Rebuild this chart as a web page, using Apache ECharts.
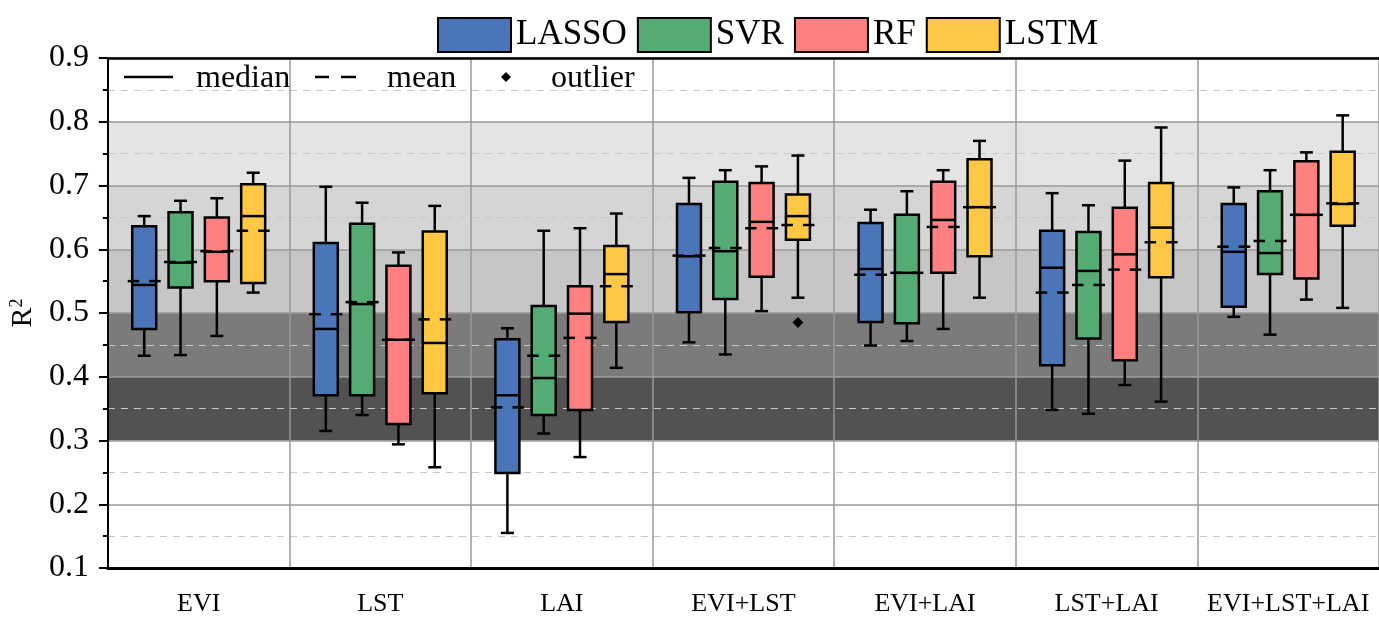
<!DOCTYPE html>
<html>
<head>
<meta charset="utf-8">
<script src="https://cdn.jsdelivr.net/npm/echarts@6/dist/echarts.min.js"></script>
<style>html,body{margin:0;padding:0;background:#fff}#c{width:1379px;height:617px}</style>
</head>
<body>
<div id="c"></div>
<script>
const categories = ['EVI', 'LST', 'LAI', 'EVI+LST', 'EVI+LAI', 'LST+LAI', 'EVI+LST+LAI'];
const models = ['LASSO', 'SVR', 'RF', 'LSTM'];
const yTicks = [0.1, 0.2, 0.3, 0.4, 0.5, 0.6, 0.7, 0.8, 0.9];
// each row: [min, Q1, median, Q3, max, mean]
const lasso = [
  [0.433, 0.475, 0.544, 0.636, 0.652, 0.550],
  [0.315, 0.371, 0.475, 0.610, 0.698, 0.498],
  [0.155, 0.249, 0.371, 0.459, 0.476, 0.352],
  [0.454, 0.501, 0.589, 0.671, 0.712, 0.590],
  [0.449, 0.486, 0.569, 0.641, 0.662, 0.560],
  [0.348, 0.418, 0.571, 0.629, 0.688, 0.532],
  [0.494, 0.510, 0.596, 0.671, 0.697, 0.604]
];
const svr = [
  [0.434, 0.540, 0.579, 0.658, 0.676, 0.580],
  [0.340, 0.371, 0.514, 0.640, 0.673, 0.517],
  [0.311, 0.340, 0.398, 0.511, 0.629, 0.433],
  [0.435, 0.522, 0.597, 0.706, 0.724, 0.602],
  [0.456, 0.484, 0.563, 0.654, 0.691, 0.563],
  [0.342, 0.460, 0.566, 0.627, 0.669, 0.544],
  [0.466, 0.561, 0.594, 0.691, 0.724, 0.613]
];
const rf = [
  [0.464, 0.550, 0.596, 0.650, 0.680, 0.597],
  [0.294, 0.326, 0.458, 0.574, 0.595, 0.458],
  [0.274, 0.348, 0.499, 0.542, 0.633, 0.461],
  [0.503, 0.557, 0.643, 0.704, 0.730, 0.633],
  [0.475, 0.563, 0.646, 0.706, 0.724, 0.635],
  [0.387, 0.426, 0.592, 0.665, 0.739, 0.568],
  [0.521, 0.554, 0.654, 0.738, 0.752, 0.654]
];
const lstm = [
  [0.532, 0.547, 0.652, 0.702, 0.720, 0.629],
  [0.258, 0.374, 0.453, 0.628, 0.668, 0.490],
  [0.414, 0.486, 0.561, 0.605, 0.656, 0.542],
  [0.524, 0.615, 0.652, 0.686, 0.747, 0.638],
  [0.524, 0.589, 0.666, 0.741, 0.770, 0.666],
  [0.361, 0.556, 0.634, 0.704, 0.791, 0.611],
  [0.508, 0.637, 0.671, 0.753, 0.810, 0.672]
];
// [categoryIndex, modelIndex, value]
const outliers = [[3, 3, 0.485]];
// background bands [low, high]
const bandRanges = [[0.3, 0.4], [0.4, 0.5], [0.5, 0.6], [0.6, 0.7], [0.7, 0.8]];
const bandColors = ['#525252', '#7b7b7b', '#c6c6c6', '#d5d5d5', '#e4e4e4'];
const colors = ['#4a76b9', '#54ab73', '#fe8080', '#fec845'];

const FONT = '"Liberation Serif", "Times New Roman", serif';
const allData = [lasso, svr, rf, lstm];

function slotX(api, ci, mi) {
  const cx = api.coord([ci, 0.5])[0];
  const bw = api.size([1, 0])[0];
  const slot = bw * 0.2;
  return { x: cx + (mi - 1.5) * slot, w: slot * 0.66 };
}

function boxRender(mi) {
  return function (params, api) {
    const ci = api.value(0);
    const s = slotX(api, ci, mi);
    const x = s.x, w = s.w, hw = w / 2, cap = 6.5;
    const y = v => api.coord([ci, v])[1];
    const yMin = y(api.value(1)), yQ1 = y(api.value(2)), yMed = y(api.value(3));
    const yQ3 = y(api.value(4)), yMax = y(api.value(5)), yMean = y(api.value(6));
    const ls = { stroke: '#000', lineWidth: 2.5 };
    return {
      type: 'group',
      children: [
        { type: 'line', shape: { x1: x, y1: yMax, x2: x, y2: yQ3 }, style: ls },
        { type: 'line', shape: { x1: x, y1: yQ1, x2: x, y2: yMin }, style: ls },
        { type: 'line', shape: { x1: x - cap, y1: yMax, x2: x + cap, y2: yMax }, style: ls },
        { type: 'line', shape: { x1: x - cap, y1: yMin, x2: x + cap, y2: yMin }, style: ls },
        { type: 'rect', shape: { x: x - hw, y: yQ3, width: w, height: yQ1 - yQ3 },
          style: { fill: colors[mi], stroke: '#000', lineWidth: 2.5 } },
        { type: 'line', shape: { x1: x - hw, y1: yMed, x2: x + hw, y2: yMed }, style: ls },
        { type: 'line', shape: { x1: x - 16.5, y1: yMean, x2: x - 5, y2: yMean }, style: ls },
        { type: 'line', shape: { x1: x + 5, y1: yMean, x2: x + 16.5, y2: yMean }, style: ls }
      ]
    };
  };
}

const boxSeries = models.map((m, mi) => ({
  name: m,
  type: 'custom',
  z: 3,
  itemStyle: { color: colors[mi], borderColor: '#000', borderWidth: 2 },
  encode: { x: 0, y: [1, 2, 3, 4, 5, 6] },
  data: allData[mi].map((r, ci) => [ci].concat(r)),
  renderItem: boxRender(mi)
}));

const bandSeries = {
  type: 'custom',
  z: 0,
  silent: true,
  encode: { x: 0, y: [1, 2] },
  data: bandRanges.map((b, i) => [0, b[0], b[1], i]),
  renderItem: function (params, api) {
    const cs = params.coordSys;
    const y1 = api.coord([0, api.value(2)])[1];
    const y0 = api.coord([0, api.value(1)])[1];
    return { type: 'rect', shape: { x: cs.x, y: y1, width: cs.width, height: y0 - y1 },
      style: { fill: bandColors[api.value(3)] } };
  }
};

const outlierSeries = {
  type: 'custom',
  z: 3,
  encode: { x: 0, y: 2 },
  data: outliers,
  renderItem: function (params, api) {
    const ci = api.value(0), mi = api.value(1);
    const s = slotX(api, ci, mi);
    const yy = api.coord([ci, api.value(2)])[1];
    const r = 5.5;
    return { type: 'polygon', shape: { points: [[s.x, yy - r], [s.x + r, yy], [s.x, yy + r], [s.x - r, yy]] },
      style: { fill: '#000' } };
  }
};

const chart = echarts.init(document.getElementById('c'), null, { renderer: 'canvas' });
chart.setOption({
  animation: false,
  backgroundColor: '#fff',
  grid: { left: 102, right: -7, top: 58, bottom: 49, containLabel: false },
  legend: {
    left: 437, top: 17, padding: 0, itemGap: 10, itemWidth: 73, itemHeight: 34,
    icon: 'rect',
    textStyle: { fontFamily: FONT, fontSize: 35, color: '#000' },
    data: models.map((m, mi) => ({ name: m, itemStyle: { color: colors[mi], borderColor: '#000', borderWidth: 2 } }))
  },
  xAxis: [{
    type: 'category', data: categories, z: 1,
    axisLine: { lineStyle: { color: '#000', width: 3 } },
    axisTick: { alignWithLabel: true, interval: 0, length: 9, lineStyle: { color: '#000', width: 2 } },
    axisLabel: { interval: 0, fontFamily: FONT, fontSize: 26, color: '#000', margin: 23 },
    splitLine: { show: true, interval: 0, lineStyle: { color: '#999', width: 1.5 } }
  }, {
    type: 'category', data: categories, position: 'top', z: 1,
    axisLine: { lineStyle: { color: '#000', width: 2.5 } },
    axisTick: { show: false }, axisLabel: { show: false }, splitLine: { show: false }
  }],
  yAxis: {
    type: 'value', min: yTicks[0], max: yTicks[yTicks.length - 1], interval: 0.1, z: 1,
    name: '{a|R}{b|2}', nameLocation: 'middle', nameRotate: 90, nameGap: 64,
    nameTextStyle: { rich: { a: { fontFamily: FONT, fontSize: 30, color: '#000' },
      b: { fontFamily: FONT, fontSize: 18, color: '#000', verticalAlign: 'top', padding: [0, 0, 12, 0] } } },
    axisLine: { show: true, lineStyle: { color: '#000', width: 2 } },
    axisTick: { show: true, length: 9, lineStyle: { color: '#000', width: 2 } },
    minorTick: { show: true, splitNumber: 2, length: 5, lineStyle: { color: '#000', width: 2 } },
    axisLabel: { fontFamily: FONT, fontSize: 32, color: '#000', margin: 19, formatter: v => v.toFixed(1) },
    splitLine: { show: true, lineStyle: { color: '#999', width: 1.5 } },
    minorSplitLine: { show: true, lineStyle: { color: '#c8c8c8', width: 1.2, type: [7, 6] } }
  },
  graphic: [
    { type: 'line', shape: { x1: 124, y1: 77, x2: 173, y2: 77 }, style: { stroke: '#000', lineWidth: 2.5 } },
    { type: 'text', x: 196, y: 79, style: { text: 'median', font: '32px ' + FONT, fill: '#000', textVerticalAlign: 'middle' } },
    { type: 'line', shape: { x1: 315, y1: 77, x2: 329, y2: 77 }, style: { stroke: '#000', lineWidth: 2.5 } },
    { type: 'line', shape: { x1: 341, y1: 77, x2: 356, y2: 77 }, style: { stroke: '#000', lineWidth: 2.5 } },
    { type: 'text', x: 387, y: 79, style: { text: 'mean', font: '32px ' + FONT, fill: '#000', textVerticalAlign: 'middle' } },
    { type: 'polygon', shape: { points: [[506, 72], [511, 77], [506, 82], [501, 77]] }, style: { fill: '#000' } },
    { type: 'text', x: 551, y: 79, style: { text: 'outlier', font: '32px ' + FONT, fill: '#000', textVerticalAlign: 'middle' } }
  ],
  series: [bandSeries].concat(boxSeries, [outlierSeries])
});
</script>
</body>
</html>
